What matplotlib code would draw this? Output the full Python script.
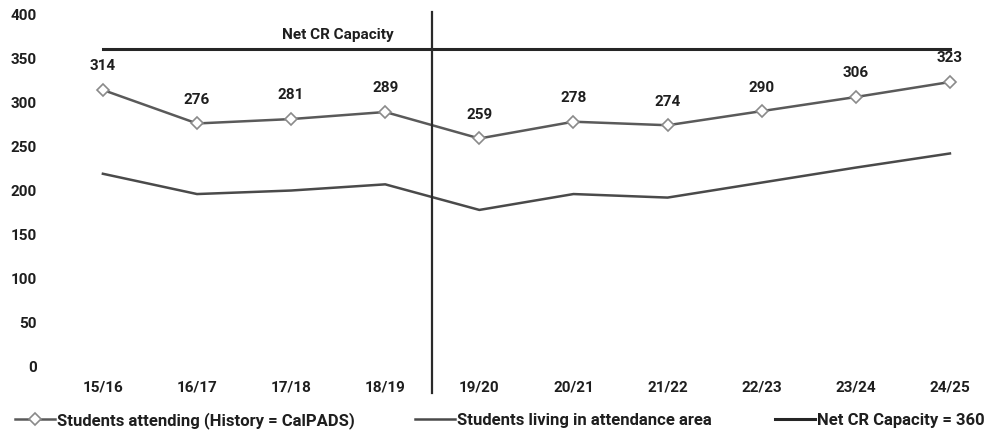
import matplotlib
matplotlib.use("Agg")
import matplotlib.pyplot as plt
from matplotlib.lines import Line2D

plt.rcParams['font.family'] = ['Roboto', 'DejaVu Sans']
plt.rcParams['font.weight'] = 'bold'

years = ["15/16", "16/17", "17/18", "18/19", "19/20", "20/21", "21/22", "22/23", "23/24", "24/25"]
attending = [314, 276, 281, 289, 259, 278, 274, 290, 306, 323]
living_in_area = [219, 196, 200, 207, 178, 196, 192, 209, 226, 242]
capacity = 360
divider_pos = 3.5  # boundary between history and projection

fig = plt.figure(figsize=(9.97, 4.4), dpi=100)
ax = fig.add_axes([0.056, 0.166, 0.944, 0.802])

x = list(range(len(years)))
text_col = "#1e1e1e"

ax.plot(x, [capacity] * len(x), color="#262626", lw=2.2, zorder=2)
ax.plot(x, living_in_area, color="#4a4a4a", lw=1.8, zorder=3)
ax.plot(x, attending, color="#5a5a5a", lw=1.8, marker="D", markersize=6.5,
        markerfacecolor="white", markeredgecolor="#8a8a8a", markeredgewidth=1.2, zorder=4)

for xi, v in zip(x, attending):
    ax.annotate(f"{v}", (xi, v), xytext=(0, 17), textcoords="offset points",
                ha="center", va="center", fontsize=11, fontweight="bold", color=text_col)

ax.text(2.5, capacity + 8, "Net CR Capacity", ha="center", va="bottom",
        fontsize=11, fontweight="bold", color=text_col)

ax.plot([divider_pos, divider_pos], [-29, 402], color="#2a2a2a", lw=1.6,
        clip_on=False, zorder=5)

ax.set_xlim(-0.5, len(years) - 0.5)
ax.set_ylim(0, 400)
ax.set_yticks(range(0, 401, 50))
ax.set_xticks(x)
ax.set_xticklabels(years)
for s in ax.spines.values():
    s.set_visible(False)
ax.tick_params(axis="both", length=0, labelsize=11, colors=text_col)
ax.tick_params(axis="y", pad=13.5)
ax.tick_params(axis="x", pad=10)
for lbl in ax.get_xticklabels() + ax.get_yticklabels():
    lbl.set_fontweight("bold")

entries = [
    (Line2D([], [], color="#5a5a5a", lw=1.8, marker="D", markersize=6,
            markerfacecolor="white", markeredgecolor="#8a8a8a", markeredgewidth=1.2),
     "Students attending (History = CalPADS)", 0.015),
    (Line2D([], [], color="#4a4a4a", lw=1.8),
     "Students living in attendance area", 0.416),
    (Line2D([], [], color="#262626", lw=2.2),
     "Net CR Capacity = 360", 0.777),
]
for h, lab, xpos in entries:
    leg = fig.legend([h], [lab], loc="center left", bbox_to_anchor=(xpos, 0.045),
                     frameon=False, handlelength=2.4, handletextpad=0.15,
                     borderpad=0, borderaxespad=0,
                     prop={"size": 12, "weight": "bold"})
    for t in leg.get_texts():
        t.set_color(text_col)

fig.savefig("out.png", dpi=100, facecolor="white")
